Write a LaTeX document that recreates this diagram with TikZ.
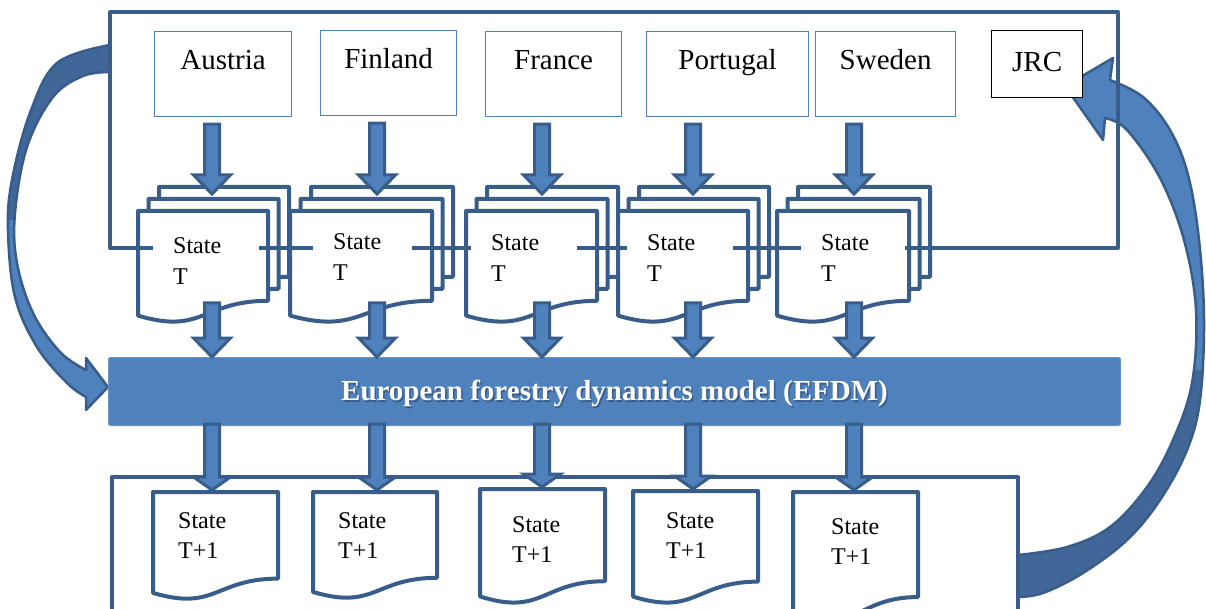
\documentclass[tikz,border=0pt]{standalone}
\usepackage{fontspec}
\setmainfont{Liberation Serif}
\usetikzlibrary{calc}
\definecolor{dkb}{RGB}{56,93,138}
\definecolor{acc}{RGB}{79,129,189}
\definecolor{accdk}{RGB}{64,103,152}

\tikzset{
 docst/.style={draw=dkb, line width=4pt, fill=white, line join=round},
 framest/.style={draw=dkb, line width=4pt, line join=round},
 barr/.style={draw=dkb, line width=3pt, fill=acc},
 curvearr/.style={draw=dkb, line width=2.5pt, fill=acc, line join=round},
 cbox/.style={draw=acc, line width=1.2pt, fill=white, anchor=north west, inner ysep=0pt, text height=38pt, text depth=47pt, font=\fontsize{29}{34}\selectfont},
 jrcbox/.style={draw=black, line width=1.2pt, fill=white, anchor=north west, inner ysep=0pt, text height=41pt, text depth=26pt, minimum width=91pt, font=\fontsize{29}{34}\selectfont},
 sttext/.style={anchor=base west, fill=white, inner xsep=20pt, inner ysep=6pt, text width=66pt, align=left, font=\fontsize{24}{31}\selectfont},
 t1text/.style={anchor=base west, inner sep=0pt, text width=60pt, align=left, font=\fontsize{24}{30}\selectfont},
 barst/.style={fill=acc, draw=acc!85!white, line width=1pt, rounded corners=2pt, anchor=north west, minimum width=1012pt, minimum height=68pt, inner sep=0pt},
 bartext/.style={font=\bfseries\fontsize{29}{34}\selectfont, text=white},
}

\newcommand\docshape[4]{\filldraw[docst] ({#1},{#2}) -- ({#1+#3},{#2}) -- ({#1+#3},{#2+0.802*#4}) .. controls ({#1+0.5*#3},{#2+0.802*#4}) and ({#1+0.5*#3},{#2+1.108*#4}) .. ({#1},{#2+0.934*#4}) -- cycle;}
\newcommand\multidoc[5]{%
 \docshape{#2+21}{#3-24}{#4}{#5}
 \docshape{#2+10.5}{#3-12}{#4}{#5}
 \docshape{#2}{#3}{#4}{#5}
 \coordinate (#1-top) at ({#2+21},{#3-24});
 \coordinate (#1-in) at ({#2+#4},{#3+0.802*#5});}
\newcommand\singledoc[5]{\docshape{#2}{#3}{#4}{#5}\coordinate (#1-top) at ({#2},{#3});}
% #1 start, #2 tip, #3 start shift down, #4 tip shift down, #5 head length
\newcommand\blockarrow[5]{\filldraw[barr] let \p1=(#1), \p2=(#2), \n1={\y1-#3}, \n2={\y2-#4} in
 (\x2-7.5,\n1) -- (\x2+7.5,\n1) -- (\x2+7.5,\n2+#5) -- (\x2+18.5,\n2+#5) -- (\x2,\n2) -- (\x2-18.5,\n2+#5) -- (\x2-7.5,\n2+#5) -- cycle;}

\begin{document}
\begin{tikzpicture}[x=1pt, y=-1pt]
\useasboundingbox (0,0) rectangle (1206,609);

% curved arrows
\filldraw[curvearr, path picture={\fill[accdk] (0,0) rectangle (130,220);}]
 plot[smooth, tension=0.6] coordinates {(110,45) (57,63) (30,113) (12,180) (8,230) (15,297) (37,347) (67,383) (86,397)}
 -- (86,410) -- (108,387) -- (86,358) -- (86,370)
 -- plot[smooth, tension=0.6] coordinates {(86,370) (60,352) (33,313) (17,263) (15,213) (27,147) (53,97) (83,76) (110,72)}
 -- cycle;
\filldraw[curvearr, path picture={\fill[accdk] (1000,370) rectangle (1210,620);}]
 plot[smooth, tension=0.6] coordinates {(1018,597) (1043,593) (1083,573) (1127,540) (1160,500) (1187,450) (1200,400) (1204,320) (1199,240) (1188,175) (1170,130) (1143,97) (1110,80)}
 -- (1113,58) -- (1065,86) -- (1103,140) -- (1105,118)
 -- plot[smooth, tension=0.6] coordinates {(1105,118) (1127,130) (1160,178) (1184,240) (1196,310) (1192,383) (1173,440) (1147,487) (1110,527) (1067,547) (1018,555)}
 -- cycle;

% State T stacks
\multidoc{dA}{138}{211}{130}{112}
\multidoc{dB}{290}{211}{142}{112}
\multidoc{dC}{466}{211}{131}{112}
\multidoc{dD}{618}{211}{130}{112}
\multidoc{dE}{777}{211}{132}{112}

% State T+1 documents
\singledoc{tdA}{153}{492}{125}{108}
\singledoc{tdB}{313}{492}{124}{107}
\singledoc{tdC}{480}{489}{125}{115}
\singledoc{tdD}{633}{491}{125}{113}
\singledoc{tdE}{793}{492}{125}{131}

% frames
\draw[framest] (110,12) rectangle (1118,248);
\draw[framest] (112,615) -- (112,477) -- (1018,477) -- (1018,615);

% State T labels
\node[sttext] (stA) at (153,254) {State\\T};
\node[sttext, text width=59pt] (stB) at (313,250) {State\\T};
\node[sttext] (stC) at (471,251) {State\\T};
\node[sttext] (stD) at (627,251) {State\\T};
\node[sttext, text width=64pt] (stE) at (801,251) {State\\T};

% State T+1 labels
\node[t1text] (tA) at (178,528) {State\\T+1};
\node[t1text] (tB) at (338,528) {State\\T+1};
\node[t1text] (tC) at (512,532) {State\\T+1};
\node[t1text] (tD) at (666,528) {State\\T+1};
\node[t1text] (tE) at (831,534) {State\\T+1};

% countries
\node[cbox, minimum width=137pt] (aut) at (154,31) {Austria};
\node[cbox, minimum width=136pt] (fin) at (320,30) {Finland};
\node[cbox, minimum width=136pt] (fra) at (485,31) {France};
\node[cbox, minimum width=162pt] (por) at (646,31) {Portugal};
\node[cbox, minimum width=140pt] (swe) at (815,31) {Sweden};
\node[jrcbox] (jrc) at (991,30) {JRC};

% model bar
\node[barst] (efdm) at (108,357) {};
\node[bartext, text=dkb!60!black, opacity=0.5] (efdmshadow) at ($(efdm.center)+(1.5,3.5)$) {European forestry dynamics model (EFDM)};
\node[bartext] (efdmlabel) at ($(efdm.center)+(0,2)$) {European forestry dynamics model (EFDM)};

% columns
\coordinate (cA) at (212,0);
\coordinate (cB) at (377,0);
\coordinate (cC) at (542,0);
\coordinate (cD) at (693,0);
\coordinate (cE) at (854,0);

% country -> State T
\blockarrow{cA|-aut.south}{cA|-dA-top}{7}{7}{19}
\blockarrow{cB|-fin.south}{cB|-dB-top}{7}{7}{19}
\blockarrow{cC|-fra.south}{cC|-dC-top}{7}{7}{19}
\blockarrow{cD|-por.south}{cD|-dD-top}{7}{7}{19}
\blockarrow{cE|-swe.south}{cE|-dE-top}{7}{7}{19}
% State T -> EFDM
\blockarrow{cA|-dA-in}{cA|-efdm.north}{2}{0}{19}
\blockarrow{cB|-dB-in}{cB|-efdm.north}{2}{0}{19}
\blockarrow{cC|-dC-in}{cC|-efdm.north}{2}{0}{19}
\blockarrow{cD|-dD-in}{cD|-efdm.north}{2}{0}{19}
\blockarrow{cE|-dE-in}{cE|-efdm.north}{2}{0}{19}
% EFDM -> State T+1
\blockarrow{cA|-efdm.south}{cA|-tdA-top}{-2}{-2}{13}
\blockarrow{cB|-efdm.south}{cB|-tdB-top}{-2}{-2}{13}
\blockarrow{cC|-efdm.south}{cC|-tdC-top}{-2}{-2}{13}
\blockarrow{cD|-efdm.south}{cD|-tdD-top}{-2}{-2}{13}
\blockarrow{cE|-efdm.south}{cE|-tdE-top}{-2}{-2}{13}
\end{tikzpicture}
\end{document}
